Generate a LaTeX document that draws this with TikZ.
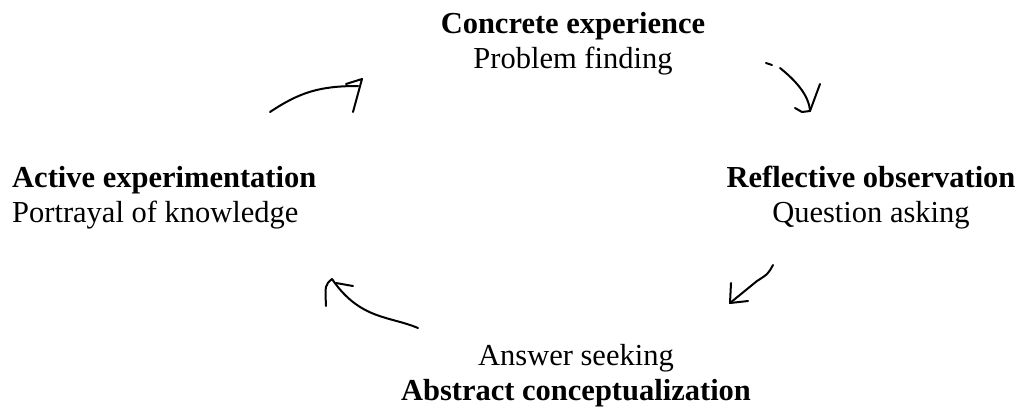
\documentclass[tikz,border=0pt]{standalone}
\usepackage{fontspec}
\setmainfont{Liberation Serif}
\usetikzlibrary{positioning}

\begin{document}
\begin{tikzpicture}[x=1pt, y=-1pt,
        stage/.style={inner sep=0pt, align=center, font=\fontsize{30.5}{35}\selectfont},
        pen/.style={line width=2pt, line cap=round, line join=round}]
    \useasboundingbox (0,0) rectangle (1024,415);

    % the four stages
    \node[stage, anchor=north] (concrete) at (573,12) {\textbf{Concrete experience}\\Problem finding};
    \node[stage, anchor=north] (reflective) at (871,166) {\textbf{Reflective observation}\\Question asking};
    \node[stage, anchor=north] (abstract) at (576,344) {Answer seeking\\\textbf{Abstract conceptualization}};
    \node[stage, anchor=north west, align=left] (active) at (12,166) {\textbf{Active experimentation}\\Portrayal of knowledge};

    % hand drawn arrows round the cycle
    \coordinate (a1s) at (270,112);
    \coordinate (a1e) at (358,86);
    \draw[pen] (a1s) .. controls (300,92) and (320,86) .. (a1e);
    \draw[pen] (346,84) -- (362,79) -- (353,112);

    \coordinate (a2s) at (780,68);
    \coordinate (a2e) at (810,111);
    \draw[pen] (766,63) -- (772,65);
    \draw[pen] (a2s) .. controls (795,80) and (809,95) .. (a2e);
    \draw[pen] (820,84) -- (a2e);
    \draw[pen] (795,108) -- (802,112) -- (a2e);

    \coordinate (a3s) at (773,265);
    \coordinate (a3e) at (730,303);
    \draw[pen] (a3s) .. controls (768,274) .. (757,281) -- (a3e);
    \draw[pen] (731,283) -- (a3e) -- (748,301);

    \coordinate (a4s) at (418,328);
    \coordinate (a4e) at (332,279);
    \draw[pen] (a4s) .. controls (390,316) and (360,320) .. (a4e);
    \draw[pen] (a4e) .. controls (325,285) .. (326,306);
    \draw[pen] (336,283) -- (353,286);
\end{tikzpicture}
\end{document}
